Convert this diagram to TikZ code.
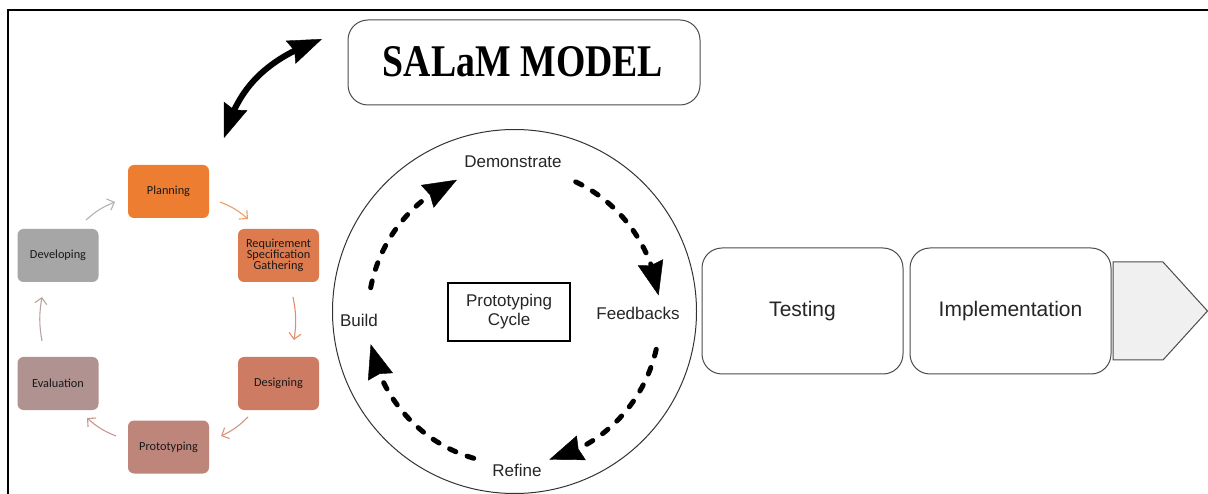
\documentclass[tikz,border=0pt]{standalone}
\usepackage{fontspec}
\usepackage{graphicx}
\setmainfont{Liberation Sans}
\newfontfamily\carl{Carlito}
\newfontfamily\serifb{Liberation Serif}
\usetikzlibrary{arrows.meta,bending,calc}
\definecolor{cPlan}{HTML}{ED7D31}
\definecolor{cReq}{HTML}{DD7A4E}
\definecolor{cDes}{HTML}{CD7B62}
\definecolor{cPro}{HTML}{BE867A}
\definecolor{cEva}{HTML}{B09290}
\definecolor{cDev}{HTML}{A6A6A6}
\tikzset{
  cyc/.style={rounded corners=6pt, minimum width=81pt, minimum height=53pt, inner sep=1pt,
    align=center, font=\carl\fontsize{12.3}{13.5}\selectfont, text=black!90},
  carr/.style={line width=1.1pt, -{Straight Barb[length=6pt,width=12pt]}, bend left=10},
  dsh/.style={line width=5pt, line cap=round, dash pattern=on 7pt off 12pt,
    -{Stealth[length=34pt,width=26pt,inset=3pt,line width=0.4pt]}},
  lbl/.style={font=\fontsize{17}{19}\selectfont, text=black!85},
  phase/.style={draw=black!70, line width=1pt, rounded corners=20pt, minimum width=201pt,
    minimum height=126pt, font=\fontsize{21}{24}\selectfont, text=black!85},
  dtip/.style={Stealth[length=34pt,width=25pt,inset=4pt,line width=0.4pt]},
}
\begin{document}
\begin{tikzpicture}[x=1pt,y=-1pt]
\useasboundingbox (0,0) rectangle (1208,494);
\fill[white] (0,0) rectangle (1208,494);
\draw[line width=2pt] (8,494) -- (8,10) -- (1208,10);

% title
\node[draw=black!70, line width=1pt, rounded corners=20pt, minimum width=352pt, minimum height=85pt] (title) at (524,62.5) {};
\node[inner sep=0pt] (titletext) at (523,62) {\resizebox{280pt}{30pt}{\serifb\bfseries SALaM MODEL}};

% double arrow
\coordinate (da1) at (224,138);
\coordinate (da2) at (322,39);
\draw[line width=6pt, {Stealth[length=34pt,width=25pt,inset=4pt,line width=0.4pt]}-{Stealth[length=34pt,width=25pt,inset=4pt,line width=0.4pt]}]
  (da1) .. controls (236,95) and (258,62) .. (da2);

% left cycle
\node[cyc, fill=cPlan] (plan) at (168.5,191.5) {Planning};
\node[cyc, fill=cReq] (req) at (278.5,255.5) {Requirement\\[-2.5pt]Specification\\[-2.5pt]Gathering};
\node[cyc, fill=cDes] (des) at (278.5,383.5) {Designing};
\node[cyc, fill=cPro] (pro) at (168.5,447) {Prototyping};
\node[cyc, fill=cEva] (eva) at (58,383.5) {Evaluation};
\node[cyc, fill=cDev] (dev) at (58,255.5) {Developing};

\coordinate (a1s) at (86,220);  \coordinate (a1e) at (115,202);
\coordinate (a2s) at (220,202); \coordinate (a2e) at (248,219);
\coordinate (a3s) at (293,297); \coordinate (a3e) at (294,340);
\coordinate (a4s) at (248,417); \coordinate (a4e) at (221,436);
\coordinate (a5s) at (116,436); \coordinate (a5e) at (87,418);
\coordinate (a6s) at (42,341);  \coordinate (a6e) at (42,297);
\draw[carr, draw=black!30] (a1s) to (a1e);
\draw[carr, draw=cPlan!75] (a2s) to (a2e);
\draw[carr, draw=cReq!85] (a3s) to (a3e);
\draw[carr, draw=cDes!80] (a4s) to (a4e);
\draw[carr, draw=cPro!85] (a5s) to (a5e);
\draw[carr, draw=cEva!85] (a6s) to (a6e);

% prototyping cycle
\node[circle, draw=black!80, line width=1pt, minimum size=364pt, inner sep=0pt] (pc) at (514.5,311.5) {};
\node[draw=black, line width=2.5pt, minimum width=122pt, minimum height=58pt, align=center,
  font=\fontsize{17}{19}\selectfont, text=black!85] (core) at (509,312) {Prototyping\\Cycle};
\node[lbl] (demo) at (513,162) {Demonstrate};
\node[lbl] (feed) at (638,313) {Feedbacks};
\node[lbl] (refine) at (517,470) {Refine};
\node[lbl] (build) at (359,320) {Build};

\coordinate (cc) at (514,316);
\draw[dsh] ($(cc)+(-169:146 and 148)$) arc[start angle=-169, end angle=-113, x radius=146, y radius=148];
\draw[dsh] ($(cc)+(-65:146 and 148)$) arc[start angle=-65, end angle=-8, x radius=146, y radius=148];
\draw[dsh] ($(cc)+(13:146 and 148)$) arc[start angle=13, end angle=76, x radius=146, y radius=148];
\draw[dsh] ($(cc)+(106:146 and 148)$) arc[start angle=106, end angle=169, x radius=146, y radius=148];

% right phases
\node[phase] (test) at (802.5,311) {Testing};
\node[phase] (impl) at (1010.5,311) {Implementation};
\draw[draw=black!70, line width=1pt, fill=black!6] (1113,262) -- (1163,262) -- (1207.5,311) -- (1163,360) -- (1113,360) -- cycle;
\end{tikzpicture}
\end{document}
